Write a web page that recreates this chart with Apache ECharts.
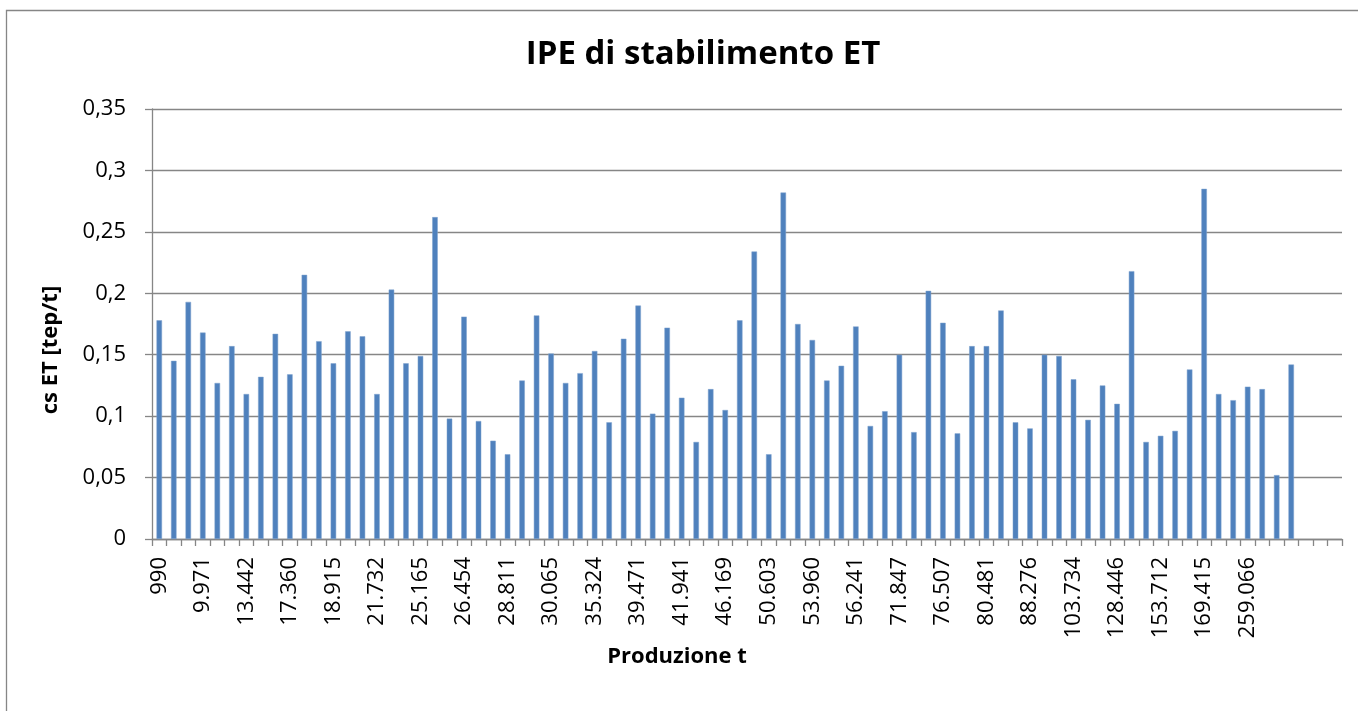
<!DOCTYPE html>
<html>
<head>
<meta charset="utf-8">
<title>IPE di stabilimento ET</title>
<script src="https://cdn.jsdelivr.net/npm/echarts@6/dist/echarts.min.js"></script>
<style>
  html, body { margin: 0; padding: 0; background: #fff; }
  #chart { width: 1358px; height: 711px; }
</style>
</head>
<body>
<div id="chart"></div>
<script>
// labels shown on the x axis (one every third category)
const tickLabels = [
  '990', '9.971', '13.442', '17.360', '18.915', '21.732', '25.165', '26.454',
  '28.811', '30.065', '35.324', '39.471', '41.941', '46.169', '50.603', '53.960',
  '56.241', '71.847', '76.507', '80.481', '88.276', '103.734', '128.446',
  '153.712', '169.415', '259.066'
];
const CATEGORY_COUNT = 82;

// cs ET [tep/t] per plant, in axis order
const csValues = [
  0.178, 0.145, 0.193, 0.168, 0.127, 0.157, 0.118, 0.132, 0.167, 0.134,
  0.215, 0.161, 0.143, 0.169, 0.165, 0.118, 0.203, 0.143, 0.149, 0.262,
  0.098, 0.181, 0.096, 0.080, 0.069, 0.129, 0.182, 0.151, 0.127, 0.135,
  0.153, 0.095, 0.163, 0.190, 0.102, 0.172, 0.115, 0.079, 0.122, 0.105,
  0.178, 0.234, 0.069, 0.282, 0.175, 0.162, 0.129, 0.141, 0.173, 0.092,
  0.104, 0.150, 0.087, 0.202, 0.176, 0.086, 0.157, 0.157, 0.186, 0.095,
  0.090, 0.150, 0.149, 0.130, 0.097, 0.125, 0.110, 0.218, 0.079, 0.084,
  0.088, 0.138, 0.285, 0.118, 0.113, 0.124, 0.122, 0.052, 0.142
];

const categories = [];
for (let i = 0; i < CATEGORY_COUNT; i++) {
  const k = i / 3;
  categories.push(i % 3 === 0 && k < tickLabels.length ? tickLabels[k] : '');
}

const FONT = 'Open Sans';
const lineColor = '#868686';

const chart = echarts.init(document.getElementById('chart'));
chart.setOption({
  animation: false,
  backgroundColor: '#fff',
  textStyle: { fontFamily: FONT },
  graphic: [{
    type: 'rect',
    shape: { x: 6.5, y: 10.5, width: 1400, height: 800 },
    style: { fill: 'none', stroke: lineColor, lineWidth: 1.3 },
    silent: true
  }],
  title: {
    text: 'IPE di stabilimento ET',
    left: 698,
    top: 33,
    textAlign: 'center',
    textStyle: {
      fontFamily: FONT,
      fontSize: 33,
      fontWeight: 'bold',
      color: '#000'
    }
  },
  grid: {
    left: 152,
    right: 16,
    top: 109,
    bottom: 172
  },
  xAxis: {
    type: 'category',
    data: categories,
    name: 'Produzione t',
    nameLocation: 'middle',
    nameGap: 100,
    nameTextStyle: {
      fontFamily: FONT,
      fontSize: 22,
      fontWeight: 'bold',
      color: '#000',
      padding: [0, 140, 0, 0]
    },
    axisLine: { lineStyle: { color: lineColor, width: 1.3 } },
    axisTick: {
      show: true,
      interval: 0,
      length: 7,
      alignWithLabel: false,
      lineStyle: { color: lineColor, width: 1.3 }
    },
    axisLabel: {
      interval: 2,
      rotate: 90,
      margin: 18,
      fontFamily: FONT,
      fontSize: 22,
      color: '#000'
    },
    splitLine: { show: false }
  },
  yAxis: {
    type: 'value',
    min: 0,
    max: 0.35,
    interval: 0.05,
    name: 'cs ET [tep/t]',
    nameLocation: 'middle',
    nameGap: 90,
    nameTextStyle: {
      fontFamily: FONT,
      fontSize: 22,
      fontWeight: 'bold',
      color: '#000',
      padding: [0, 52, 0, 0]
    },
    axisLine: { show: true, lineStyle: { color: lineColor, width: 1.3 } },
    axisTick: { show: true, length: 7, lineStyle: { color: lineColor, width: 1.3 } },
    axisLabel: {
      margin: 26,
      fontFamily: FONT,
      fontSize: 22,
      color: '#000',
      formatter: (v) => String(+v.toFixed(2)).replace('.', ',')
    },
    splitLine: { show: true, lineStyle: { color: lineColor, width: 1.3 } }
  },
  series: [{
    type: 'bar',
    data: csValues,
    barWidth: 5.5,
    itemStyle: {
      color: '#4F81BD',
      borderColor: '#7FA3CF',
      borderWidth: 0.5
    }
  }]
});
</script>
</body>
</html>
